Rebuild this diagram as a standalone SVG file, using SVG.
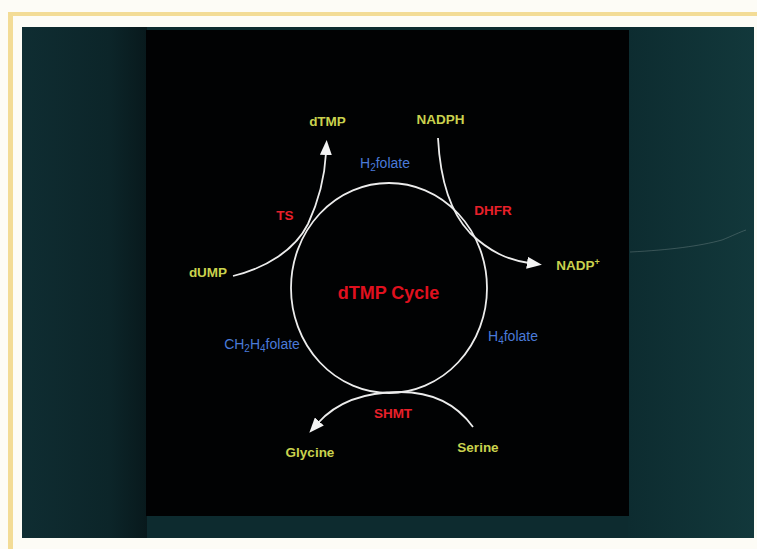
<svg xmlns="http://www.w3.org/2000/svg" width="757" height="549" viewBox="0 0 757 549">
  <style>
    .lbl { font-family: "Liberation Sans", Arial, sans-serif; text-anchor: middle; }
    .met { fill: #cad24e; font-weight: bold; font-size: 13.5px; }
    .enz { fill: #e8202a; font-weight: bold; font-size: 13.5px; }
    .fol { fill: #4a7ad8; font-size: 14px; }
    .title { fill: #e0101e; font-weight: bold; font-size: 18px; }
    .flow { fill: none; stroke: #ececec; stroke-width: 1.8; }
  </style>
  <defs>
    <marker id="arrow" viewBox="0 0 15 12" refX="2" refY="6" markerWidth="15" markerHeight="12" markerUnits="userSpaceOnUse" orient="auto">
      <path d="M0,0 L15,6 L0,12 Z" fill="#f4f4f4"/>
    </marker>
    <linearGradient id="panelLeft" x1="0" y1="0" x2="1" y2="0">
      <stop offset="0" stop-color="#0f2d32"/>
      <stop offset="0.7" stop-color="#0c2529"/>
      <stop offset="1" stop-color="#08191c"/>
    </linearGradient>
    <linearGradient id="panelRight" x1="0" y1="0" x2="1" y2="0">
      <stop offset="0" stop-color="#0d2c30"/>
      <stop offset="1" stop-color="#12383b"/>
    </linearGradient>
  </defs>

  <!-- slide mount -->
  <rect x="0" y="0" width="757" height="549" fill="#fdfcf6"/>
  <rect x="8" y="12" width="749" height="4" fill="#f3dc96"/>
  <rect x="8" y="12" width="5" height="537" fill="#f3dc96"/>

  <!-- dark slide panel -->
  <rect x="22" y="27" width="732" height="511" fill="#0d2b2f"/>
  <rect x="22" y="27" width="125" height="511" fill="url(#panelLeft)"/>
  <rect x="628" y="27" width="126" height="511" fill="url(#panelRight)"/>
  <rect x="146" y="30" width="483" height="486" fill="#010203"/>
  <path d="M630,252 C670,250 700,246 722,240 C732,236 740,232 746,230" fill="none" stroke="#8a9a9a" stroke-width="1" opacity="0.35"/>

  <!-- connectors -->
  <g id="connectors">
    <ellipse id="cycle-ring" class="flow" cx="389" cy="288" rx="98" ry="105"/>
    <path id="ts-flow" class="flow" d="M233,276 C266,268 295,250 308,224 C320,198 325,172 326,153" marker-end="url(#arrow)"/>
    <path id="dhfr-flow" class="flow" d="M438,138 C440,176 448,210 470,233 C490,252 508,260 529,263" marker-end="url(#arrow)"/>
    <path id="shmt-flow" class="flow" d="M473,427 C455,402 430,392 400,392 C362,392 335,404 318,423" marker-end="url(#arrow)"/>
  </g>

  <g id="cycle-title"><text class="lbl title" x="388.5" y="299">dTMP Cycle</text></g>

  <g id="node-dtmp"><text class="lbl met" x="327.5" y="126">dTMP</text></g>
  <g id="node-nadph"><text class="lbl met" x="440.5" y="124">NADPH</text></g>
  <g id="node-dump"><text class="lbl met" x="208" y="277">dUMP</text></g>
  <g id="node-nadp"><text class="lbl met" x="578" y="270">NADP<tspan font-size="9" dy="-5">+</tspan></text></g>
  <g id="node-glycine"><text class="lbl met" x="310" y="457">Glycine</text></g>
  <g id="node-serine"><text class="lbl met" x="478" y="452">Serine</text></g>

  <g id="enzyme-ts"><text class="lbl enz" x="285" y="220">TS</text></g>
  <g id="enzyme-dhfr"><text class="lbl enz" x="493" y="215">DHFR</text></g>
  <g id="enzyme-shmt"><text class="lbl enz" x="393" y="418">SHMT</text></g>

  <g id="folate-h2"><text class="lbl fol" x="385" y="168">H<tspan font-size="10" dy="3">2</tspan><tspan dy="-3">folate</tspan></text></g>
  <g id="folate-h4"><text class="lbl fol" x="513" y="341">H<tspan font-size="10" dy="3">4</tspan><tspan dy="-3">folate</tspan></text></g>
  <g id="folate-ch2h4"><text class="lbl fol" x="262" y="349">CH<tspan font-size="10" dy="3">2</tspan><tspan dy="-3">H</tspan><tspan font-size="10" dy="3">4</tspan><tspan dy="-3">folate</tspan></text></g>
</svg>
